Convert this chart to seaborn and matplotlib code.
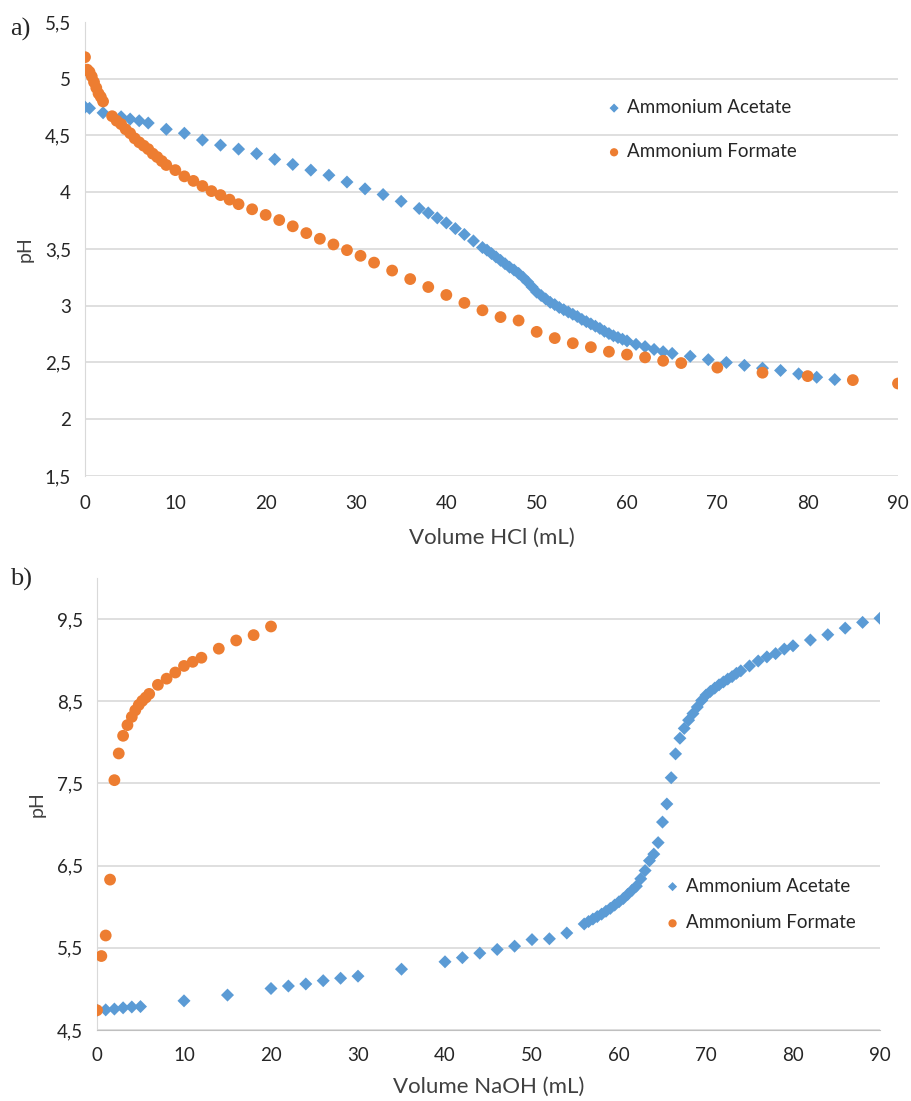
import pandas as pd
import matplotlib.pyplot as plt
import seaborn as sns
from matplotlib.ticker import FixedLocator

# panel a: titration with HCl
hcl_acetato_v = [0, 0.5, 2, 4, 5, 6, 7, 9, 11, 13, 15, 17, 19, 21, 23, 25, 27, 29, 31, 33, 35,
                 37, 38, 39, 40, 41, 42, 43, 44,
                 44.5, 45, 45.5, 46, 46.5, 47, 47.5, 48, 48.5, 49, 49.5, 50, 50.5, 51, 51.5, 52,
                 52.5, 53, 53.5, 54, 54.5, 55, 55.5, 56, 56.5, 57, 57.5, 58, 58.5, 59, 59.5,
                 60, 61, 62, 63, 64, 65, 67, 69, 71, 73, 75, 77, 79, 81, 83]
hcl_acetato_ph = [4.75, 4.74, 4.70, 4.665, 4.645, 4.63, 4.61, 4.555, 4.52, 4.46, 4.415, 4.38, 4.34,
                  4.29, 4.245, 4.195, 4.15, 4.09, 4.03, 3.98, 3.92,
                  3.857, 3.818, 3.774, 3.73, 3.68, 3.628, 3.571, 3.513,
                  3.49, 3.46, 3.43, 3.40, 3.37, 3.34, 3.315, 3.285, 3.25, 3.21, 3.165, 3.12, 3.09,
                  3.06, 3.03, 3.01, 2.985, 2.965, 2.945, 2.925, 2.905, 2.88, 2.86, 2.84, 2.82,
                  2.80, 2.775, 2.755, 2.735, 2.72, 2.705,
                  2.69, 2.66, 2.64, 2.615, 2.595, 2.58, 2.555, 2.525, 2.50, 2.475, 2.45, 2.43,
                  2.40, 2.37, 2.35]
hcl_formiato_v = [0, 0.25, 0.5, 0.75, 1, 1.25, 1.5, 1.75, 2, 3, 3.5, 4, 4.5, 5, 5.5, 6, 6.5, 7,
                  7.5, 8, 8.5, 9, 10, 11, 12, 13, 14, 15, 16, 17, 18.5, 20, 21.5, 23, 24.5, 26,
                  27.5, 29, 30.5, 32, 34, 36, 38, 40, 42, 44, 46, 48, 50, 52, 54, 56, 58, 60,
                  62, 64, 66, 70, 75, 80, 85, 90]
hcl_formiato_ph = [5.19, 5.08, 5.06, 5.02, 4.97, 4.92, 4.87, 4.84, 4.80, 4.67, 4.63, 4.60, 4.555,
                   4.52, 4.475, 4.44, 4.41, 4.38, 4.34, 4.31, 4.275, 4.24, 4.195, 4.14, 4.10,
                   4.055, 4.01, 3.975, 3.935, 3.895, 3.85, 3.80, 3.755, 3.70, 3.64, 3.59, 3.54,
                   3.49, 3.44, 3.38, 3.31, 3.235, 3.165, 3.095, 3.025, 2.96, 2.90, 2.87, 2.77,
                   2.715, 2.67, 2.635, 2.595, 2.57, 2.545, 2.515, 2.495, 2.455, 2.41, 2.38,
                   2.345, 2.315]

# panel b: titration with NaOH
naoh_acetato_v = [0, 1, 2, 3, 4, 5, 10, 15, 20, 22, 24, 26, 28, 30, 35, 40, 42, 44, 46, 48, 50,
                  52, 54, 56, 56.5, 57, 57.5, 58, 58.5, 59, 59.5, 60, 60.5, 61, 61.5, 62, 62.5,
                  63, 63.5, 64, 64.5, 65, 65.5, 66, 66.5, 67, 67.5, 68, 68.5, 69, 69.5, 70, 70.5,
                  71, 71.5, 72, 72.5, 73, 73.5, 74, 75, 76, 77, 78, 79, 80, 82, 84, 86, 88, 90]
naoh_acetato_ph = [4.74, 4.745, 4.755, 4.77, 4.78, 4.785, 4.855, 4.925, 5.005, 5.035, 5.06, 5.10,
                   5.13, 5.155, 5.24, 5.33, 5.38, 5.435, 5.48, 5.52, 5.60, 5.61, 5.68, 5.79,
                   5.82, 5.85, 5.88, 5.91, 5.945, 5.98, 6.02, 6.06, 6.10, 6.15, 6.20, 6.25,
                   6.34, 6.44, 6.56, 6.64, 6.78, 7.03, 7.25, 7.57, 7.86, 8.05, 8.17, 8.27,
                   8.35, 8.43, 8.51, 8.575, 8.62, 8.66, 8.70, 8.735, 8.77, 8.80, 8.84, 8.87,
                   8.93, 8.99, 9.04, 9.08, 9.135, 9.175, 9.245, 9.31, 9.39, 9.46, 9.51]
naoh_formiato_v = [0, 0.5, 1, 1.5, 2, 2.5, 3, 3.5, 4, 4.4, 4.8, 5.2, 5.6, 6, 7, 8, 9, 10, 11,
                   12, 14, 16, 18, 20]
naoh_formiato_ph = [4.74, 5.40, 5.65, 6.33, 7.54, 7.865, 8.08, 8.21, 8.31, 8.39, 8.455, 8.505,
                    8.545, 8.59, 8.70, 8.775, 8.85, 8.93, 8.98, 9.03, 9.14, 9.24, 9.305, 9.41]

series = ["Ammonium Acetate", "Ammonium Formate"]
x_ticks = [0, 10, 20, 30, 40, 50, 60, 70, 80, 90]
ya_ticks = [1.5, 2, 2.5, 3, 3.5, 4, 4.5, 5, 5.5]
ya_labels = ["1,5", "2", "2,5", "3", "3,5", "4", "4,5", "5", "5,5"]
yb_ticks = [4.5, 5.5, 6.5, 7.5, 8.5, 9.5]
yb_labels = ["4,5", "5,5", "6,5", "7,5", "8,5", "9,5"]

azul = "#5B9BD5"
naranja = "#ED7D31"
gris = "#d9d9d9"

sns.set_style("white")
plt.rcParams["font.family"] = ["Lato", "DejaVu Sans"]

fig = plt.figure(figsize=(9.12, 11.01), dpi=100)
ax1 = fig.add_axes([85/912, 1-476/1101, 813/912, 454/1101])
ax2 = fig.add_axes([97/912, 1-1030/1101, 783/912, 452/1101])


def dibujar(ax, v1, ph1, v2, ph2):
    d1 = pd.DataFrame({"v": v1, "ph": ph1, "serie": series[0]})
    d2 = pd.DataFrame({"v": v2, "ph": ph2, "serie": series[1]})
    sns.scatterplot(data=d1, x="v", y="ph", marker="D", s=44, color=azul,
                    edgecolor="none", label=series[0], ax=ax, zorder=3)
    sns.scatterplot(data=d2, x="v", y="ph", marker="o", s=72, color=naranja,
                    edgecolor="none", label=series[1], ax=ax, zorder=4)


# grafico a
dibujar(ax1, hcl_acetato_v, hcl_acetato_ph, hcl_formiato_v, hcl_formiato_ph)
ax1.set_xlim(0, 90)
ax1.set_ylim(1.5, 5.5)
ax1.yaxis.set_major_locator(FixedLocator(ya_ticks))
ax1.set_yticklabels(ya_labels)
ax1.set_xticks(x_ticks)
ax1.set_xticklabels([str(t) for t in x_ticks])
ax1.grid(axis="y", color=gris, lw=1.2)
ax1.yaxis.get_gridlines()[-1].set_visible(False)
for s in ["top", "right", "bottom"]:
    ax1.spines[s].set_visible(False)
ax1.spines["left"].set_color(gris)
ax1.tick_params(length=0, labelsize=13.5, colors="#262626", pad=14)
ax1.tick_params(axis="y", pad=10)
ax1.set_xlabel("Volume HCl (mL)", fontsize=16, color="#404040", labelpad=11)
ax1.set_ylabel("pH", fontsize=14, color="#404040", labelpad=8)
ax1.legend(loc="upper left", bbox_to_anchor=(0.63, 0.851), frameon=False, fontsize=13.5,
           handlelength=0.8, handletextpad=0.3, labelspacing=1.45, markerscale=0.7,
           borderpad=0)

# grafico b
dibujar(ax2, naoh_acetato_v, naoh_acetato_ph, naoh_formiato_v, naoh_formiato_ph)
ax2.set_xlim(0, 90)
ax2.set_ylim(4.5, 10)
ax2.yaxis.set_major_locator(FixedLocator(yb_ticks))
ax2.set_yticklabels(yb_labels)
ax2.set_xticks(x_ticks)
ax2.set_xticklabels([str(t) for t in x_ticks])
ax2.grid(axis="y", color=gris, lw=1.2)
for s in ["top", "right"]:
    ax2.spines[s].set_visible(False)
ax2.spines["left"].set_color(gris)
ax2.spines["bottom"].set_color("#bfbfbf")
ax2.tick_params(axis="x", length=6, width=1, color="#bfbfbf", direction="out",
                labelsize=13.5, colors="#262626", pad=6)
ax2.tick_params(axis="x", color="#bfbfbf")
ax2.tick_params(axis="y", length=0, labelsize=13.5, colors="#262626", pad=10)
ax2.set_xlabel("Volume NaOH (mL)", fontsize=16, color="#404040", labelpad=9.5)
ax2.set_ylabel("pH", fontsize=14, color="#404040", labelpad=8)
ax2.legend(loc="upper left", bbox_to_anchor=(0.7135, 0.358), frameon=False, fontsize=13.5,
           handlelength=0.8, handletextpad=0.3, labelspacing=1.05, markerscale=0.7,
           borderpad=0)

fig.text(0.011, 0.973, "a)", fontsize=19, family="Liberation Serif", va="center")
fig.text(0.011, 0.474, "b)", fontsize=19, family="Liberation Serif", va="center")

fig.savefig("out.png", dpi=100)
